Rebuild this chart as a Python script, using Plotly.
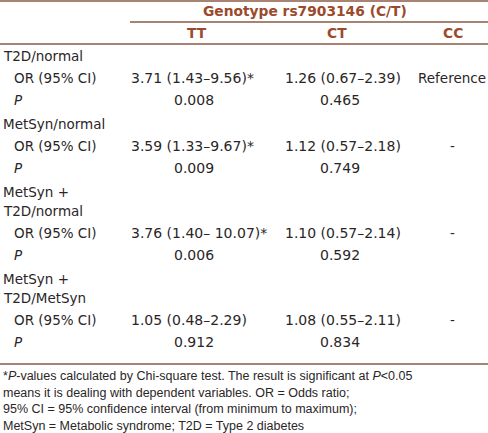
import plotly.graph_objects as go

# ---- data ----
group_labels = [["T2D/normal"], ["MetSyn/normal"], ["MetSyn +", "T2D/normal"], ["MetSyn +", "T2D/MetSyn"]]
tt_or = ["3.71 (1.43–9.56)*", "3.59 (1.33–9.67)*", "3.76 (1.40– 10.07)*", "1.05 (0.48–2.29)"]
tt_p = ["0.008", "0.009", "0.006", "0.912"]
ct_or = ["1.26 (0.67–2.39)", "1.12 (0.57–2.18)", "1.10 (0.57–2.14)", "1.08 (0.55–2.11)"]
ct_p = ["0.465", "0.749", "0.592", "0.834"]
cc_vals = ["Reference", "-", "-", "-"]
col_heads = ["TT", "CT", "CC"]
super_head = "Genotype rs7903146 (C/T)"
footnote = [
    "*<i>P</i>-values calculated by Chi-square test. The result is significant at <i>P</i>&lt;0.05",
    "means it is dealing with dependent variables. OR = Odds ratio;",
    "95% CI = 95% confidence interval (from minimum to maximum);",
    "MetSyn = Metabolic syndrome; T2D = Type 2 diabetes",
]

# ---- style ----
W, H = 488, 433
BROWN = "#8a5a45"
HEAD = "#9b4a2c"
TXT = "#2a2627"
FONT = "DejaVu Sans"
FS = 13.5
FS_NUM = 14

ann = []
def add(x, y, text, anchor="left", size=FS, color=TXT, family=FONT):
    ann.append(dict(x=x, y=y, xref="x", yref="y", text=text, showarrow=False,
                    xanchor=anchor, yanchor="middle",
                    font=dict(family=family, size=size, color=color)))

add(305, 11, "<b>" + super_head + "</b>", "center", 13.8, HEAD)
for x, h in zip([197, 337, 453], col_heads):
    add(x, 33, "<b>" + h + "</b>", "center", 13.8, HEAD)

y = 56
for i, lab in enumerate(group_labels):
    for j, line in enumerate(lab):
        add(1, y, line)
        if j < len(lab) - 1:
            y += 19
    y += 22
    add(12, y, "OR (95% CI)")
    add(129, y, tt_or[i], size=FS_NUM)
    add(283, y, ct_or[i], size=FS_NUM)
    if i == 0:
        add(488, y, cc_vals[i], "right")
    else:
        add(452, y, cc_vals[i], "center")
    y += 22
    add(12, y, "<i>P</i>")
    add(194, y, tt_p[i], "center", size=FS_NUM)
    add(340, y, ct_p[i], "center", size=FS_NUM)
    y += 24

for k, line in enumerate(footnote):
    add(1, 376 + 16.5 * k, line, "left", 12.5, TXT, "Liberation Sans")

shapes = []
def hline(x0, x1, yy):
    shapes.append(dict(type="line", xref="x", yref="y", x0=x0, x1=x1, y0=yy, y1=yy,
                       line=dict(color=BROWN, width=1.5)))
hline(0, W, 1)
hline(130, W, 22)
hline(0, W, 44)
hline(0, W, 364)

fig = go.Figure()
fig.update_layout(
    width=W, height=H, margin=dict(l=0, r=0, t=0, b=0),
    paper_bgcolor="white", plot_bgcolor="white",
    xaxis=dict(range=[0, W], visible=False, fixedrange=True),
    yaxis=dict(range=[H, 0], visible=False, fixedrange=True),
    annotations=ann, shapes=shapes, showlegend=False,
)
fig.write_html("out.html", config={"displayModeBar": False},
               post_script="document.body.style.margin='0';document.body.style.overflow='hidden';")
